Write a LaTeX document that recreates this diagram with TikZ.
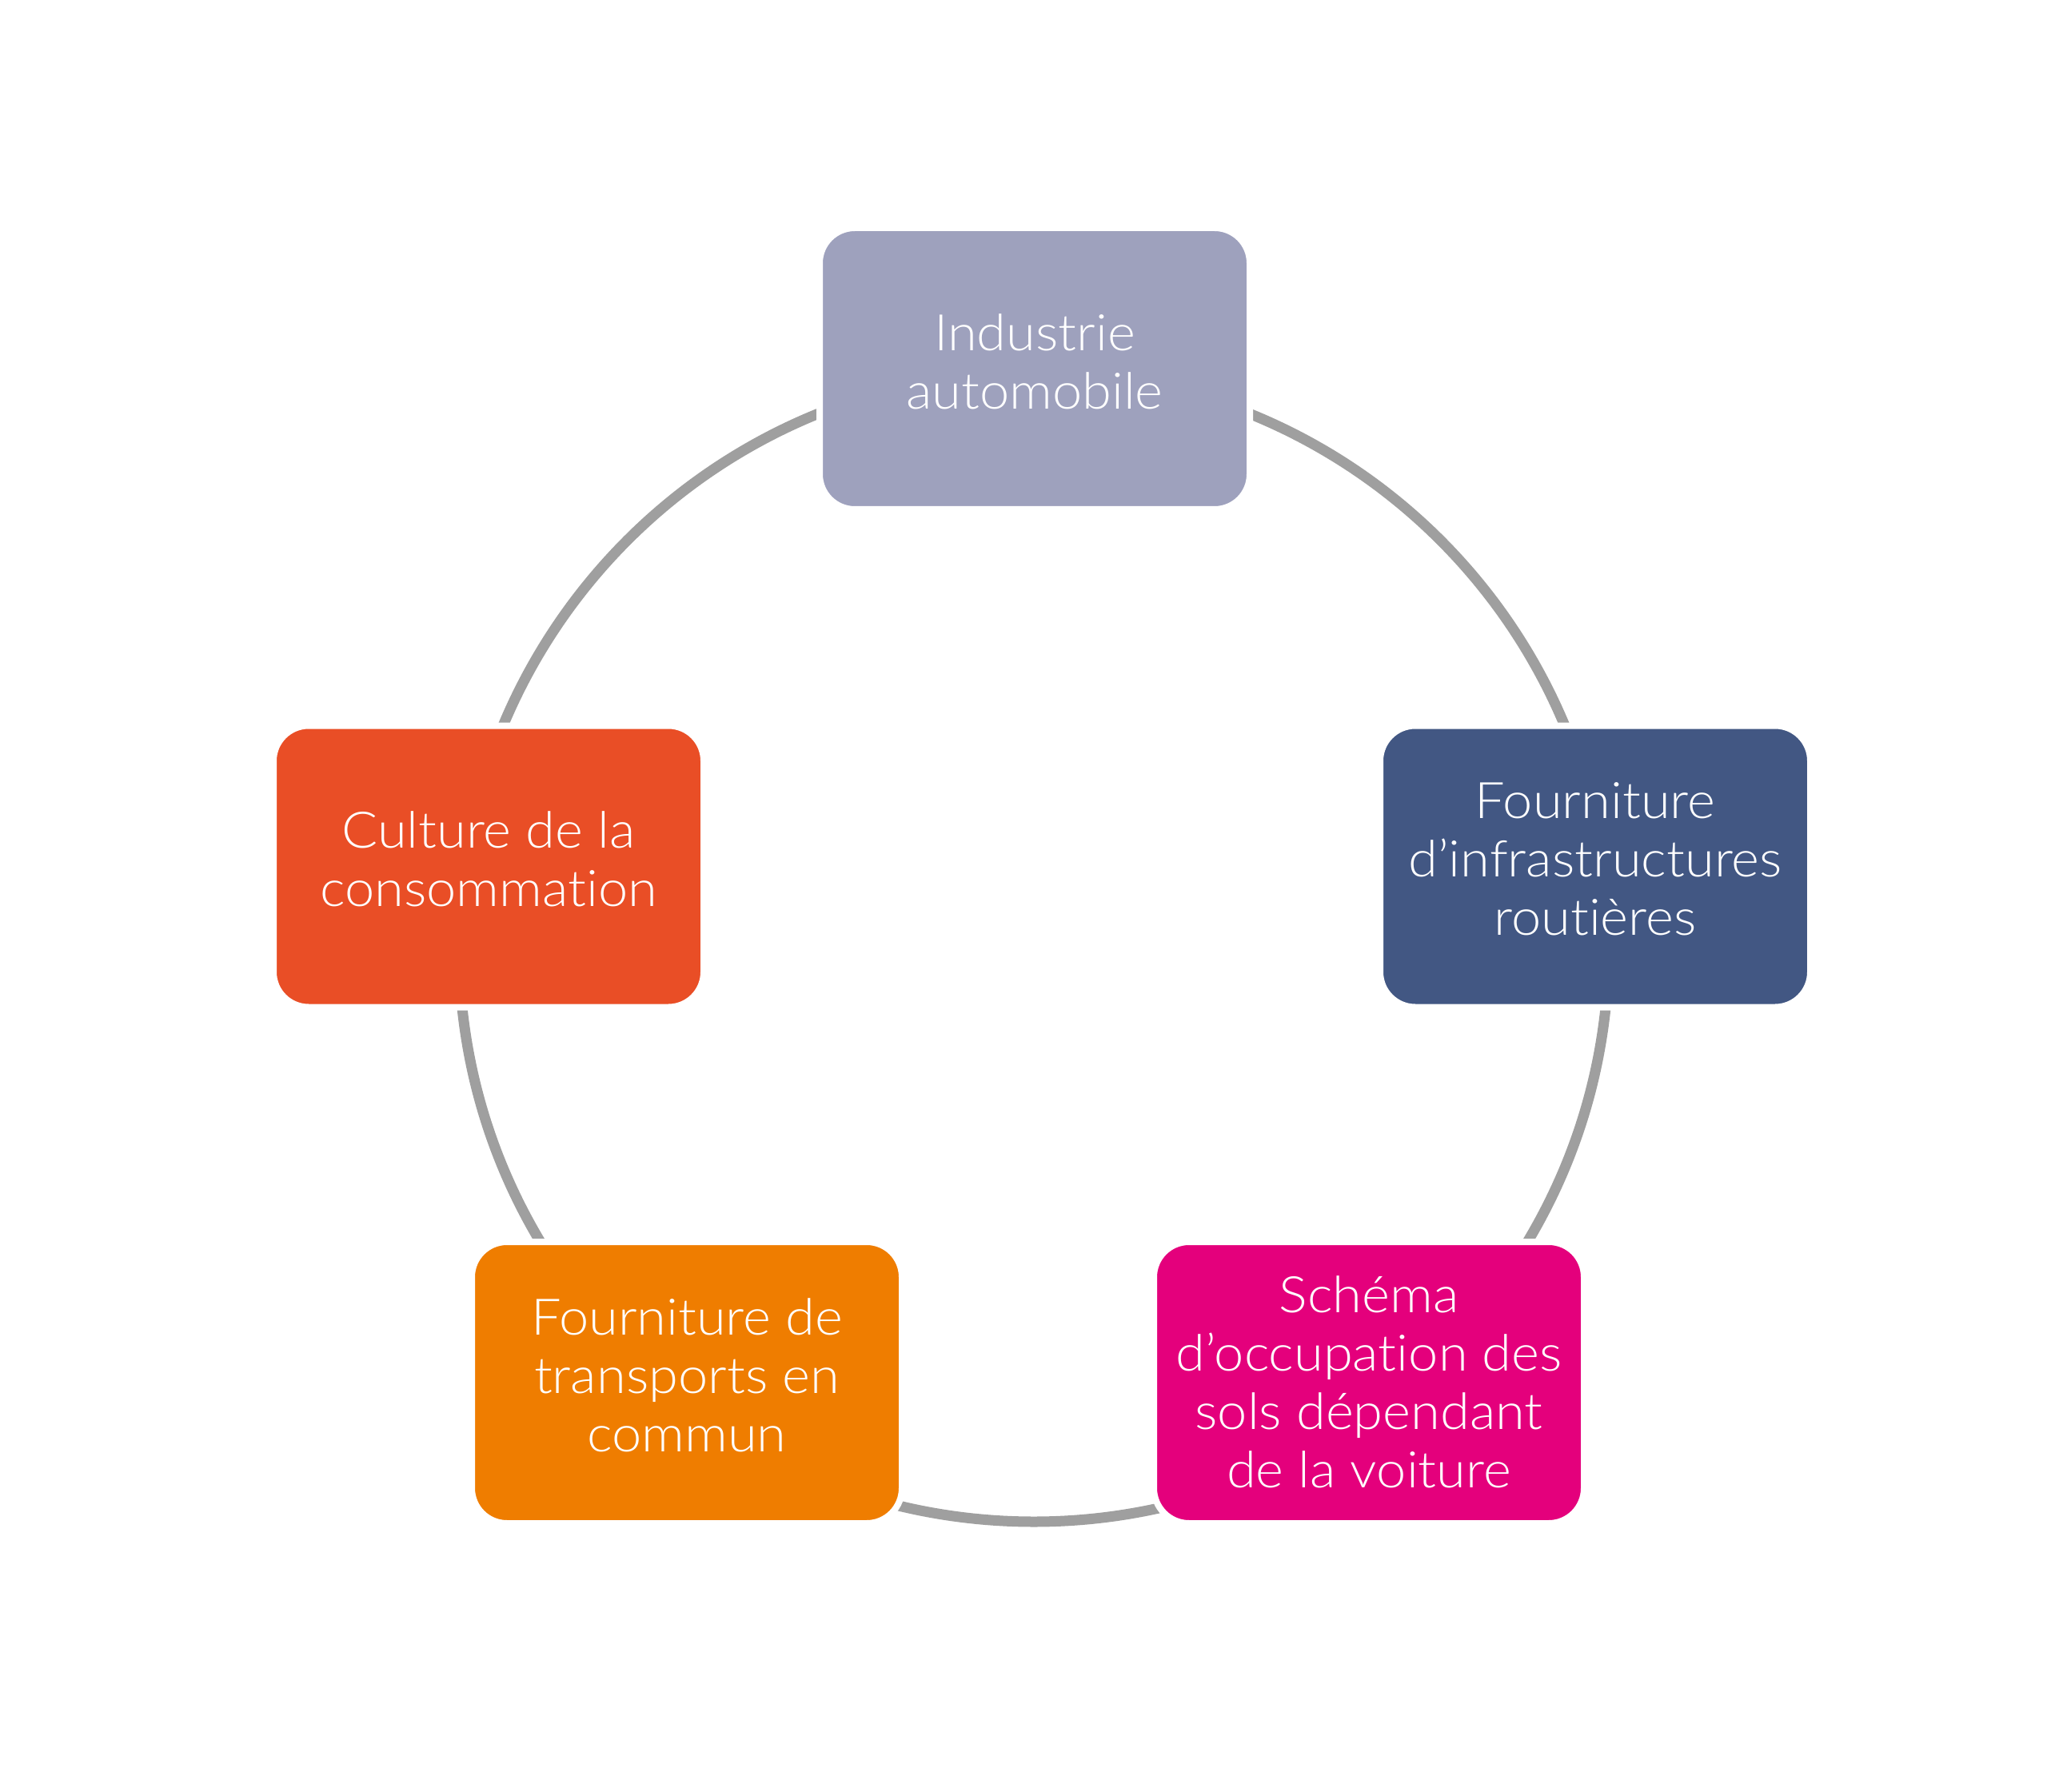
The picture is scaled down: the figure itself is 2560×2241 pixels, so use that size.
\documentclass[tikz,border=0pt]{standalone}
\usepackage{fontspec}
\setmainfont{Lato}[UprightFont={* Light}, Ligatures=NoCommon, FakeStretch=1.06]
\definecolor{cTop}{HTML}{9EA1BD}
\definecolor{cRight}{HTML}{425783}
\definecolor{cLeft}{HTML}{E94E26}
\definecolor{cBL}{HTML}{EF7D00}
\definecolor{cBR}{HTML}{E4007C}
\definecolor{ringgray}{HTML}{9F9F9F}
\begin{document}
\begin{tikzpicture}[x=0.5pt,y=-0.5pt,
  box/.style={rectangle, rounded corners=22pt, draw=white, line width=4pt,
    minimum width=269pt, minimum height=176pt, inner sep=0pt, align=center,
    text depth=9pt,
    text=white, font=\fontsize{31.5}{36.5}\selectfont},
  ring/.style={draw=ringgray, line width=6.5pt}]
\useasboundingbox[fill=white] (0,0) rectangle (2560,2241);
\coordinate (c) at (1293,1184);
\draw[ring] (c) circle[radius=359.5pt];
\node[box, fill=cTop] (ind) at (1294,461) {Industrie\\automobile};
\node[box, fill=cRight] (inf) at (1995,1083.5) {Fourniture\\d’infrastructures\\routières};
\node[box, fill=cLeft] (cul) at (611,1083.5) {Culture de la\\consommation};
\node[box, fill=cBL] (tra) at (859,1729) {Fourniture de\\transports en\\commun};
\node[box, fill=cBR, text depth=1pt] (sch) at (1712,1729) {Schéma\\d’occupation des\\sols dépendant\\de la voiture};
\end{tikzpicture}
\end{document}
